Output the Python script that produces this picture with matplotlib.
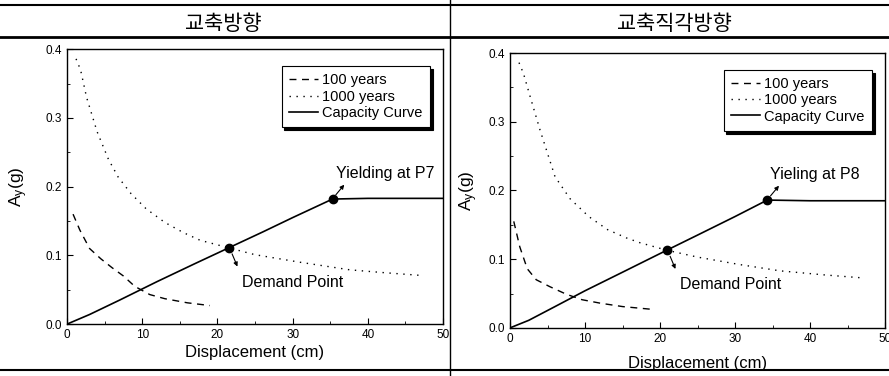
import matplotlib
matplotlib.use("Agg")
import matplotlib.pyplot as plt
from matplotlib.ticker import MultipleLocator

plt.rcParams['font.family'] = ['Liberation Sans', 'Noto Sans CJK KR']
plt.rcParams['mathtext.fontset'] = 'custom'
plt.rcParams['mathtext.rm'] = 'Liberation Sans'
plt.rcParams['mathtext.it'] = 'Liberation Sans'

# panel titles
titles = ["교축방향", "교축직각방향"]
yield_labels = ["Yielding at P7", "Yieling at P8"]

# left panel (교축방향)
cap_x_l = [0, 3, 7, 12, 17, 21.5, 26, 30, 35.3, 40, 45, 50]
cap_y_l = [0, 0.014, 0.035, 0.062, 0.088, 0.111, 0.134, 0.155, 0.182, 0.183, 0.183, 0.183]
y100_x_l = [0.8, 1.7, 3, 4.5, 6, 7.5, 9, 11, 13, 16, 19]
y100_y_l = [0.16, 0.137, 0.11, 0.095, 0.082, 0.07, 0.055, 0.043, 0.037, 0.031, 0.027]
y1000_x_l = [1.2, 1.8, 2.6, 4, 5.5, 6.8, 8.5, 10.5, 13, 15.5, 17.7, 21.5, 25, 31, 37.6, 42, 46.9]
y1000_y_l = [0.386, 0.37, 0.33, 0.28, 0.24, 0.214, 0.19, 0.168, 0.148, 0.133, 0.122, 0.111,
             0.101, 0.09, 0.079, 0.075, 0.071]
yield_l = (35.3, 0.182)
demand_l = (21.5, 0.111)

# right panel (교축직각방향)
cap_x_r = [0, 2.5, 6, 10, 15, 20.9, 25, 30, 34.3, 40, 45, 50]
cap_y_r = [0, 0.011, 0.031, 0.054, 0.081, 0.113, 0.135, 0.162, 0.186, 0.185, 0.185, 0.185]
y100_x_r = [0.5, 1.3, 2.3, 3.5, 5.3, 7.5, 9.6, 12, 15, 18.9]
y100_y_r = [0.155, 0.118, 0.086, 0.07, 0.06, 0.049, 0.041, 0.036, 0.031, 0.027]
y1000_x_r = [1.2, 1.8, 2.7, 4, 6, 8, 10.5, 13, 15.5, 17.3, 20.9, 25, 30.7, 36, 42, 46.7]
y1000_y_r = [0.386, 0.37, 0.336, 0.288, 0.22, 0.188, 0.162, 0.143, 0.131, 0.124, 0.113,
             0.103, 0.092, 0.083, 0.077, 0.073]
yield_r = (34.3, 0.186)
demand_r = (20.9, 0.113)

fig = plt.figure(figsize=(8.89, 3.76), dpi=100)
ax_l = fig.add_axes([0.0754, 0.138, 0.423, 0.731])
ax_r = fig.add_axes([0.5737, 0.128, 0.4218, 0.731])

panels = [
    (ax_l, cap_x_l, cap_y_l, y100_x_l, y100_y_l, y1000_x_l, y1000_y_l, yield_l, demand_l, 0),
    (ax_r, cap_x_r, cap_y_r, y100_x_r, y100_y_r, y1000_x_r, y1000_y_r, yield_r, demand_r, 1),
]

for ax, cx, cy, hx, hy, kx, ky, yp, dp, i in panels:
    ax.plot(hx, hy, color='k', lw=1.0, dashes=(5, 4), label="100 years")
    ax.plot(kx, ky, color='k', lw=1.0, linestyle=(0, (1, 4)), label="1000 years")
    ax.plot(cx, cy, color='k', lw=1.2, label="Capacity Curve")
    ax.plot([yp[0], dp[0]], [yp[1], dp[1]], 'o', color='k', markersize=6, zorder=5)

    ax.set_xlim(0, 50)
    ax.set_ylim(0, 0.4)
    ax.xaxis.set_major_locator(MultipleLocator(10))
    ax.xaxis.set_minor_locator(MultipleLocator(5))
    ax.yaxis.set_major_locator(MultipleLocator(0.1))
    ax.yaxis.set_minor_locator(MultipleLocator(0.05))
    ax.tick_params(which='both', direction='in', labelsize=8.5)
    ax.tick_params(which='major', length=4)
    ax.tick_params(which='minor', length=2)
    ax.yaxis.set_major_formatter(matplotlib.ticker.FormatStrFormatter('%.1f'))
    for s in ax.spines.values():
        s.set_linewidth(1.0)

    ax.set_xlabel("Displacement (cm)", fontsize=12, labelpad=3 if i == 0 else 8)
    ax.set_ylabel(r"A$_y$(g)", fontsize=12.5)
    ax.yaxis.set_label_coords(-0.098 if i == 0 else -0.08, 0.5)

    leg = ax.legend(loc='upper right', bbox_to_anchor=(0.985, 0.965), fontsize=10.5,
                    frameon=True, fancybox=False, edgecolor='k', handlelength=2.0,
                    handletextpad=0.3, labelspacing=0.15, borderpad=0.5,
                    shadow={'color': 'k', 'alpha': 1.0, 'ox': 2, 'oy': -2})
    leg.get_frame().set_linewidth(0.8)

    # labels with arrows
    tx = yp[0] + 0.4
    ax.text(tx, yp[1] + 0.037, yield_labels[i], fontsize=11.5, ha='left', va='center')
    ax.annotate('', xy=(yp[0] + 1.8, yp[1] + 0.024), xytext=(yp[0] + 0.2, yp[1] + 0.003),
                arrowprops=dict(arrowstyle='-|>', lw=0.8, color='k', mutation_scale=6))
    ax.text(dp[0] + 1.8, dp[1] - 0.05, "Demand Point", fontsize=11.5, ha='left', va='center')
    ax.annotate('', xy=(dp[0] + 1.3, dp[1] - 0.031), xytext=(dp[0] + 0.3, dp[1] - 0.005),
                arrowprops=dict(arrowstyle='-|>', lw=0.8, color='k', mutation_scale=6))

# frame lines of the scanned table
fig.add_artist(plt.Line2D([0, 1], [0.987, 0.987], color='k', lw=1.5, transform=fig.transFigure))
fig.add_artist(plt.Line2D([0, 1], [0.902, 0.902], color='k', lw=2.0, transform=fig.transFigure))
fig.add_artist(plt.Line2D([0, 1], [0.016, 0.016], color='k', lw=1.5, transform=fig.transFigure))
fig.add_artist(plt.Line2D([0.506, 0.506], [0, 1], color='k', lw=1.0, transform=fig.transFigure))

fig.text(0.251, 0.936, titles[0], fontsize=15, ha='center', va='center',
         family=['Noto Sans CJK KR'])
fig.text(0.759, 0.936, titles[1], fontsize=15, ha='center', va='center',
         family=['Noto Sans CJK KR'])

fig.savefig("out.png", dpi=100)
